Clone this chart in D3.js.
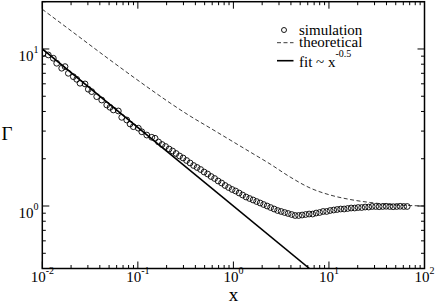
<!DOCTYPE html>
<html><head><meta charset="utf-8">
<script src="https://cdn.jsdelivr.net/npm/d3@7"></script>
<style>body{margin:0;background:#fff}svg{display:block}text{font-family:"Liberation Serif","Times New Roman","DejaVu Serif",serif}</style>
</head><body><svg id="c" width="436" height="304"></svg>
<script>
// ---- data ----
const simX = [0.0102,0.01156,0.01304,0.01415,0.01596,0.01729,0.01873,0.02112,0.02292,0.02482,0.0280,0.03031,0.0329,0.03711,0.04188,0.04724,0.05117,0.0554,0.06249,0.06783,0.07652,0.08285,0.08975,0.1012,0.1099,0.124,0.1398,0.1514,
0.1647,0.1792,0.195,0.2122,0.2309,0.2512,0.2733,0.2974,0.3236,0.3521,0.3831,0.4168,0.4535,0.4934,0.5369,0.5842,0.6356,0.6916,0.7524,0.8187,0.8908,0.9692,1.0545,1.147,1.248,1.358,1.478,1.608,1.75,1.904,2.071,2.254,2.452,2.668,2.903,3.159,3.437,3.74,4.069,4.427,4.817,
5.241,5.702,6.204,6.75,7.345,7.991,8.695,9.461,10.29,11.2,12.19,13.26,14.43,15.7,17.08,18.58,20.22,22.0,23.94,26.04,28.34,30.83,33.55,36.5,39.72,43.21,47.02,51.16,55.66,60.56,65.9];
const simY = [9.39,9.16,8.73,8.11,7.54,7.72,7.0,6.66,6.41,6.05,5.99,5.54,5.35,4.97,4.73,4.4,4.25,4.09,4.03,3.67,3.53,3.33,3.2,3.13,2.97,2.83,2.74,2.7,
2.556,2.464,2.393,2.307,2.24,2.16,2.083,2.022,1.949,1.879,1.811,1.759,1.708,1.646,1.599,1.541,1.497,1.443,1.401,1.351,1.311,1.274,1.246,1.21,1.175,1.141,1.116,1.092,1.068,1.045,1.022,1.0,0.978,0.957,0.936,0.923,0.909,0.896,0.883,0.87,0.87,
0.876,0.883,0.889,0.889,0.902,0.909,0.923,0.923,0.936,0.943,0.95,0.957,0.957,0.964,0.971,0.971,0.978,0.978,0.985,0.985,0.993,0.993,0.99,0.993,0.996,0.993,0.99,0.993,0.996,0.993,0.993];
const theoX = [0.01,0.0195,0.05117,0.1342,0.2174,0.3521,0.5702,0.9235,1.496,2.423,3.924,6.356,10.29,16.67,27.01,43.73,70.84,100];
const theoY = [17.9,13.21,8.51,5.56,4.53,3.74,3.14,2.633,2.208,1.851,1.53,1.302,1.175,1.1,1.053,1.022,1.007,1.0];
const fitX = [0.01, 6.25];
const fitY = [10, 0.4];
const xTickExps = [-2,-1,0,1,2];
const yTickExps = [0,1];
const xDomain = [0.01, 100];
const yDomain = [0.4, 20];
const legendItems = ["simulation","theoretical","fit ~ x"];
const fitExponentLabel = "-0.5";
const xTitle = "x", yTitle = "\u0393";

// ---- layout ----
const L = 42.3, R = 424.5, T = 1.7, B = 268.5;
const svg = d3.select("#c");
const x = d3.scaleLog().domain(xDomain).range([L, R]);
const y = d3.scaleLog().domain(yDomain).range([B, T]);

svg.append("defs").append("clipPath").attr("id","clip")
  .append("rect").attr("x",L).attr("y",T).attr("width",R-L).attr("height",B-T);

function minorVals(domain){
  const out=[]; const lo=Math.floor(Math.log10(domain[0])), hi=Math.ceil(Math.log10(domain[1]));
  for(let e=lo;e<hi;e++) for(let m=2;m<=9;m++){const v=m*Math.pow(10,e); if(v>=domain[0]*0.999&&v<=domain[1]*1.001) out.push(v);}
  return out;
}
const g = svg.append("g").attr("stroke","#000").attr("stroke-width",1);
const xMajor = xTickExps.map(e=>Math.pow(10,e));
const yMajor = yTickExps.map(e=>Math.pow(10,e));
const MJ=7, MN=3.5;
xMajor.forEach(v=>{const px=x(v);
  g.append("line").attr("x1",px).attr("x2",px).attr("y1",B).attr("y2",B-MJ);
  g.append("line").attr("x1",px).attr("x2",px).attr("y1",T).attr("y2",T+MJ);});
minorVals(xDomain).forEach(v=>{const px=x(v);
  g.append("line").attr("x1",px).attr("x2",px).attr("y1",B).attr("y2",B-MN);
  g.append("line").attr("x1",px).attr("x2",px).attr("y1",T).attr("y2",T+MN);});
yMajor.forEach(v=>{const py=y(v);
  g.append("line").attr("x1",L).attr("x2",L+MJ).attr("y1",py).attr("y2",py);
  g.append("line").attr("x1",R).attr("x2",R-MJ).attr("y1",py).attr("y2",py);});
minorVals(yDomain).forEach(v=>{const py=y(v);
  g.append("line").attr("x1",L).attr("x2",L+MN).attr("y1",py).attr("y2",py);
  g.append("line").attr("x1",R).attr("x2",R-MN).attr("y1",py).attr("y2",py);});

const plot = svg.append("g").attr("clip-path","url(#clip)");
const line = d3.line().x(d=>x(d[0])).y(d=>y(d[1]));
const smooth = d3.line().x(d=>x(d[0])).y(d=>y(d[1])).curve(d3.curveMonotoneX);
plot.append("path").datum(d3.zip(theoX,theoY)).attr("d",smooth)
  .attr("fill","none").attr("stroke","#222").attr("stroke-width",0.9).attr("stroke-dasharray","4,2.5");
plot.append("path").datum(d3.zip(fitX,fitY)).attr("d",line)
  .attr("fill","none").attr("stroke","#000").attr("stroke-width",1.6);
plot.selectAll("circle.s").data(d3.zip(simX,simY)).enter().append("circle")
  .attr("cx",d=>x(d[0])).attr("cy",d=>y(d[1])).attr("r",2.9)
  .attr("fill","none").attr("stroke","#000").attr("stroke-width",0.9);

svg.append("rect").attr("x",L).attr("y",T).attr("width",R-L).attr("height",B-T)
  .attr("fill","none").attr("stroke","#000").attr("stroke-width",1.5);

xTickExps.forEach(e=>{
  const t=svg.append("text").attr("x",x(Math.pow(10,e))).attr("y",281.7).attr("text-anchor","middle")
    .attr("font-size",15);
  t.append("tspan").text("10");
  t.append("tspan").attr("dy",-8).attr("font-size",10).text(String(e));
});
yTickExps.forEach(e=>{
  const t=svg.append("text").attr("x",38.5).attr("y",y(Math.pow(10,e))+12).attr("text-anchor","end")
    .attr("font-size",15);
  t.append("tspan").text("10");
  t.append("tspan").attr("dy",-8).attr("font-size",10).text(String(e));
});

svg.append("text").attr("x",(L+R)/2).attr("y",301).attr("text-anchor","middle")
  .attr("font-size",19).text(xTitle);
svg.append("text").attr("x",7).attr("y",140).attr("text-anchor","middle")
  .attr("font-size",19).text(yTitle);

const lg = svg.append("g");
lg.append("circle").attr("cx",284).attr("cy",30).attr("r",2.5).attr("fill","none").attr("stroke","#000").attr("stroke-width",0.9);
lg.append("line").attr("x1",277).attr("x2",293.5).attr("y1",42.7).attr("y2",42.7).attr("stroke","#222").attr("stroke-width",0.9).attr("stroke-dasharray","4,2.5");
lg.append("line").attr("x1",277).attr("x2",293.5).attr("y1",60.7).attr("y2",60.7).attr("stroke","#000").attr("stroke-width",1.6);
const ly=[35,47,66.7];
legendItems.forEach((s,i)=>{
  const t=lg.append("text").attr("x",299).attr("y",ly[i]).attr("font-size",15).text(s);
  if(i===2) t.append("tspan").attr("dy",-10).attr("font-size",10).text(fitExponentLabel);
});
</script></body></html>
